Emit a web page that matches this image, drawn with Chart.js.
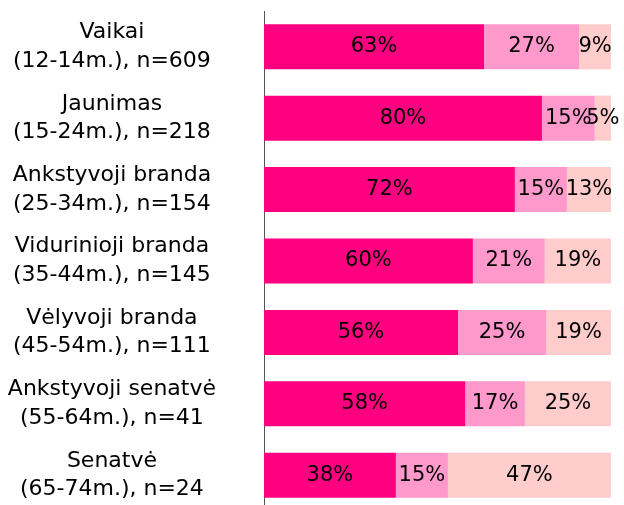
<!DOCTYPE html>
<html>
<head>
<meta charset="utf-8">
<script src="https://cdn.jsdelivr.net/npm/chart.js@4"></script>
<style>
    body { margin: 0; background: #fff; overflow: hidden; }
    #wrap { width: 624px; height: 511px; }
</style>
</head>
<body>
<div id="wrap"><canvas id="ageChart" width="624" height="511"></canvas></div>
<script>
// age groups (two-line labels)
const groups = [
    ['Vaikai', '(12-14m.), n=609'],
    ['Jaunimas', '(15-24m.), n=218'],
    ['Ankstyvoji branda', '(25-34m.), n=154'],
    ['Vidurinioji branda', '(35-44m.), n=145'],
    ['Vėlyvoji branda', '(45-54m.), n=111'],
    ['Ankstyvoji senatvė', '(55-64m.), n=41'],
    ['Senatvė', '(65-74m.), n=24']
];

// shares in %
const firstShare = [63.4, 80.1, 72.3, 60.2, 55.9, 58.0, 38.0];
const secondShare = [27.4, 15.2, 15.0, 20.7, 25.4, 17.2, 15.0];
const thirdShare = [9.2, 4.7, 12.7, 19.1, 18.7, 24.8, 47.0];

const barColors = ['#ff0080', '#ff99cc', '#ffcccc'];

// draws the rounded % value in the middle of every segment
const valueLabels = {
    id: 'valueLabels',
    afterDatasetsDraw(chart) {
        const ctx = chart.ctx;
        ctx.save();
        ctx.font = '21px "DejaVu Sans"';
        ctx.fillStyle = '#000';
        ctx.textAlign = 'center';
        ctx.textBaseline = 'middle';
        chart.data.datasets.forEach((ds, i) => {
            chart.getDatasetMeta(i).data.forEach((bar, j) => {
                const mid = (bar.x + bar.base) / 2;
                ctx.fillText(Math.round(ds.data[j]) + '%', mid, bar.y);
            });
        });
        ctx.restore();
    }
};

const ctx = document.getElementById('ageChart').getContext('2d');
new Chart(ctx, {
    type: 'bar',
    data: {
        labels: groups,
        datasets: [
            { data: firstShare, backgroundColor: barColors[0] },
            { data: secondShare, backgroundColor: barColors[1] },
            { data: thirdShare, backgroundColor: barColors[2] }
        ]
    },
    options: {
        indexAxis: 'y',
        responsive: false,
        animation: false,
        layout: {
            padding: { top: 11, right: 13, bottom: 0, left: 0 }
        },
        datasets: {
            bar: {
                barPercentage: 1,
                categoryPercentage: 0.63
            }
        },
        plugins: {
            legend: { display: false },
            tooltip: { enabled: false }
        },
        scales: {
            x: {
                stacked: true,
                display: false,
                min: 0,
                max: 100
            },
            y: {
                stacked: true,
                afterFit(scale) {
                    // fixed label column, no extra space above/below
                    scale.width = 264;
                    scale.paddingTop = 0;
                    scale.paddingBottom = 0;
                },
                grid: {
                    display: false,
                    drawTicks: false
                },
                border: {
                    display: true,
                    color: '#555',
                    width: 1
                },
                ticks: {
                    crossAlign: 'center',
                    padding: 48,
                    color: '#000',
                    font: {
                        family: '"DejaVu Sans"',
                        size: 22,
                        lineHeight: 1.3
                    }
                }
            }
        }
    },
    plugins: [valueLabels]
});
</script>
</body>
</html>
